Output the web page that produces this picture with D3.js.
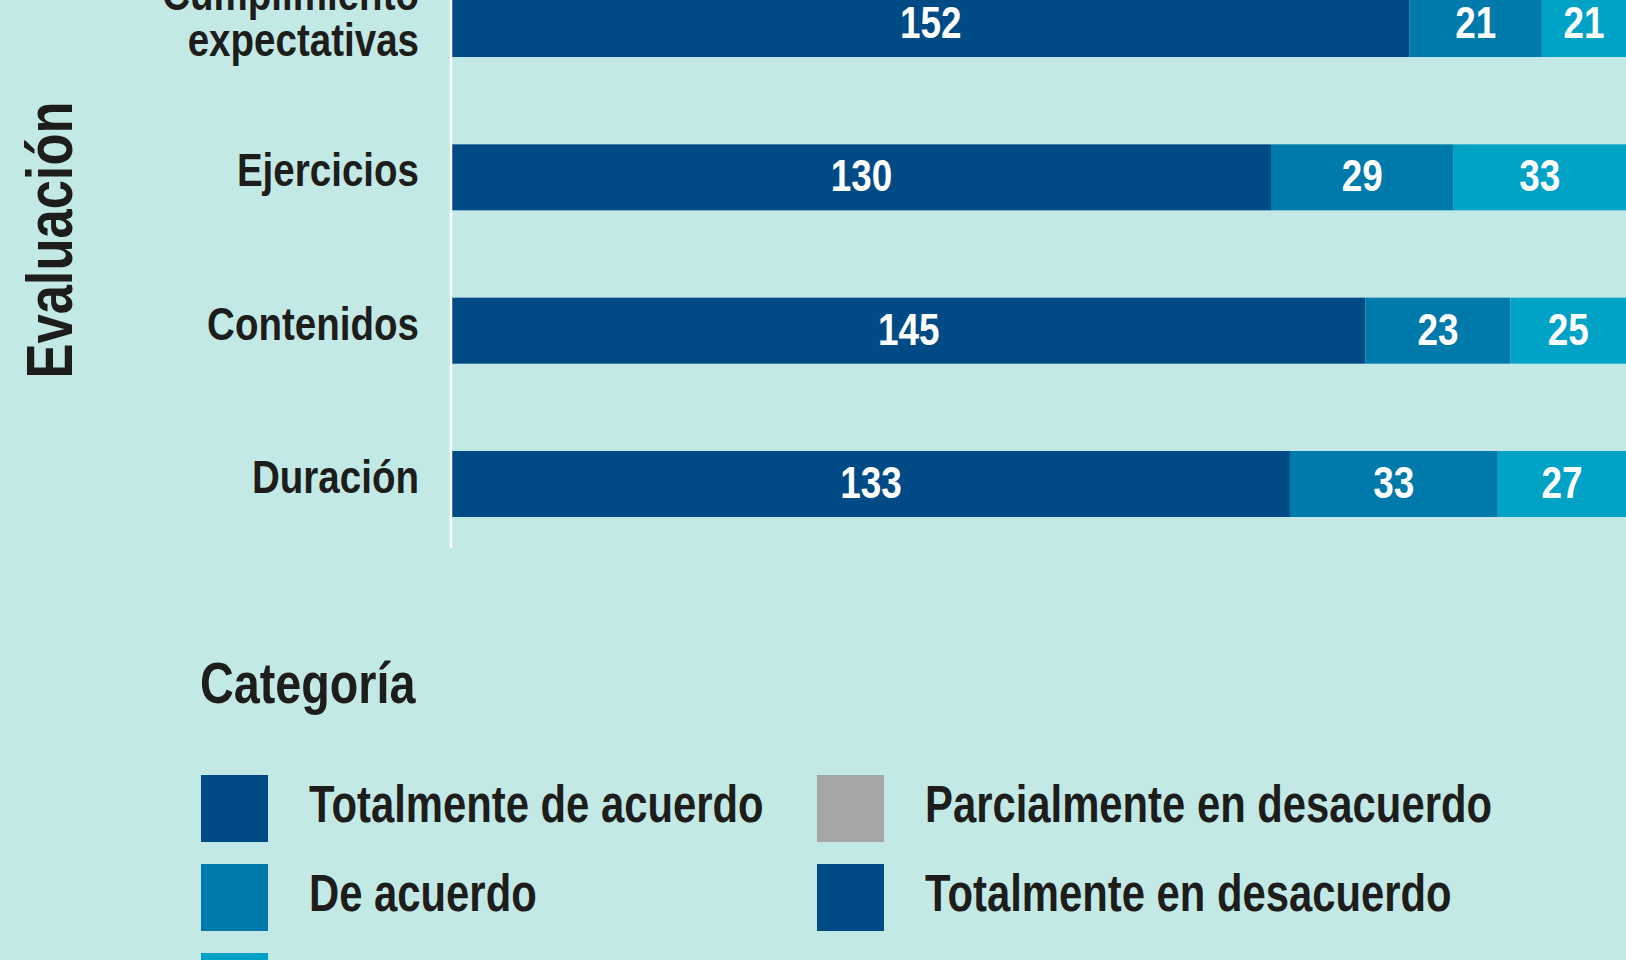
<!DOCTYPE html>
<html>
<head>
<meta charset="utf-8">
<script src="https://cdn.jsdelivr.net/npm/d3@7"></script>
<style>
  body { margin: 0; background: #c3e9e6; }
  text { font-family: 'Liberation Sans', Arial, sans-serif; font-weight: bold; }
</style>
</head>
<body>
<script>
var categories = ['Cumplimiento expectativas', 'Ejercicios', 'Contenidos', 'Duración']
var totalmenteDeAcuerdo = [152, 130, 145, 133]
var deAcuerdo = [21, 29, 23, 33]
var parcialmenteDeAcuerdo = [21, 33, 25, 27]

var seriesKeys = ['Totalmente de acuerdo', 'De acuerdo', 'Parcialmente de acuerdo']
var legendLabels = ['Totalmente de acuerdo', 'De acuerdo', 'Parcialmente de acuerdo', 'Parcialmente en desacuerdo', 'Totalmente en desacuerdo']
var legendColors = ['#004b85', '#0079ab', '#00a2c6', '#a5a5a5', '#004b85']

var width = 1626
var height = 960
var barHeight = 66
var axisX = 451
var squeeze = 0.82   // narrow look of the original type

var rows = categories.map(function(c, i){
  return {
    name: c,
    'Totalmente de acuerdo': totalmenteDeAcuerdo[i],
    'De acuerdo': deAcuerdo[i],
    'Parcialmente de acuerdo': parcialmenteDeAcuerdo[i]
  }
})

var stacked = d3.stack().keys(seriesKeys)(rows)

function place(x, y, extra){
  return 'translate(' + x + ',' + y + ')' + (extra || '') + ' scale(' + squeeze + ',1)'
}

var svg = d3.select('body')
            .append('svg')
            .attr('width', width)
            .attr('height', height)

svg.append('rect')
   .attr('width', width)
   .attr('height', height)
   .attr('fill', '#c3e9e6')

var x = d3.scaleLinear()
          .domain([0, 200])
          .range([axisX + 1, axisX + 1 + 200 * 6.3])

var y = d3.scalePoint()
          .domain(categories)
          .range([24, 484])

var color = d3.scaleOrdinal()
              .domain(legendLabels)
              .range(legendColors)

var layers = svg.selectAll('g.layer')
                .data(stacked)
                .enter()
                .append('g')
                .attr('class', 'layer')
                .attr('fill', function(d){ return color(d.key) })

layers.selectAll('rect')
      .data(function(d){ return d })
      .enter()
      .append('rect')
      .attr('x', function(d){ return x(d[0]) })
      .attr('width', function(d){ return x(d[1]) - x(d[0]) })
      .attr('y', function(d){ return y(d.data.name) - barHeight / 2 })
      .attr('height', barHeight)

// value labels, centred on the visible part of each segment
layers.selectAll('text')
      .data(function(d){ return d.map(function(p){ p.key = d.key; return p }) })
      .enter()
      .append('text')
      .text(function(d){ return d.data[d.key] })
      .attr('transform', function(d){
        var x0 = x(d[0]), x1 = Math.min(x(d[1]), width)
        return place((x0 + x1) / 2, y(d.data.name) + 14)
      })
      .attr('text-anchor', 'middle')
      .attr('fill', 'white')
      .attr('font-size', 45)

// axis line
svg.append('line')
   .attr('x1', axisX).attr('x2', axisX)
   .attr('y1', 0)
   .attr('y2', y(categories[categories.length - 1]) + barHeight / 2 + 31)
   .attr('stroke', 'white')
   .attr('stroke-width', 2.5)

// category labels
var catLabels = svg.selectAll('text.cat')
                   .data(categories)
                   .enter()
                   .append('text')
                   .attr('class', 'cat')
                   .attr('transform', function(c){ return place(419, y(c) + 9) })
                   .attr('text-anchor', 'end')
                   .attr('font-size', 47)
                   .attr('fill', '#1d1d1b')

catLabels.each(function(c){
  var words = c.split(' ')
  var t = d3.select(this)
  words.forEach(function(w, i){
    t.append('tspan')
     .attr('x', 0)
     .attr('y', (i - (words.length - 1) / 2) * 46)
     .text(w)
  })
})

svg.append('text')
   .text('Evaluación')
   .attr('transform', place(72, 240, ' rotate(-90)'))
   .attr('text-anchor', 'middle')
   .attr('font-size', 64)
   .attr('fill', '#1d1d1b')

// legend
svg.append('text')
   .text('Categoría')
   .attr('transform', place(200, 703))
   .attr('font-size', 57)
   .attr('fill', '#1d1d1b')

var legend = svg.selectAll('g.legend')
                .data(legendLabels)
                .enter()
                .append('g')
                .attr('class', 'legend')
                .attr('transform', function(d, i){
                  return 'translate(' + (201 + Math.floor(i / 3) * 616) + ',' + (775 + (i % 3) * 89) + ')'
                })

legend.append('rect')
      .attr('width', 67)
      .attr('height', 67)
      .attr('fill', function(d){ return color(d) })

legend.append('text')
      .text(function(d){ return d })
      .attr('transform', place(108, 47))
      .attr('font-size', 51)
      .attr('fill', '#1d1d1b')
</script>
</body>
</html>
